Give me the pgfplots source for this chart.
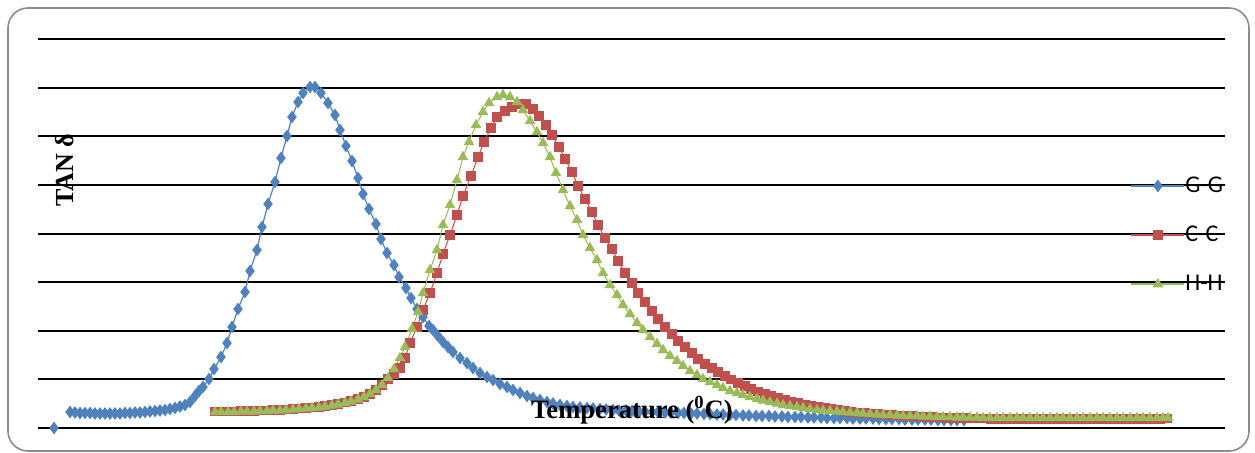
\documentclass[border=0pt]{standalone}
\usepackage{fontspec}
\setmainfont{Liberation Serif}
\newfontfamily\calibri{Carlito}
\usepackage{pgfplots}
\pgfplotsset{compat=1.18}
\definecolor{cb}{HTML}{4F81BD}
\definecolor{cr}{HTML}{C0504D}
\definecolor{cg}{HTML}{9BBB59}
\definecolor{frm}{HTML}{8C8C8C}
\begin{document}
\begin{tikzpicture}[x=0.5pt,y=0.5pt]
\useasboundingbox (0,0) rectangle (1255,452);
\draw[frm, line width=0.8pt, rounded corners=10pt] (8,1) rectangle (1249,444);
\begin{axis}[at={(19pt,12pt)}, anchor=south west, scale only axis,
  width=593.5pt, height=194.5pt,
  xmin=38, xmax=1225, ymin=0, ymax=389,
  axis line style={draw=none}, xtick=\empty,
  ytick={0,48.625,...,389}, yticklabels={}, major tick length=0pt,
  ymajorgrids, grid style={black, line width=1pt},
  unbounded coords=jump,
  xlabel={\bfseries Temperature (\textsuperscript{0}C)},
  xlabel style={at={(axis description cs:0.5004,0.046)}, anchor=center, font=\fontsize{13.3}{15}\selectfont},
  ylabel={\bfseries TAN δ},
  ylabel style={at={(axis description cs:0.0227,0.663)}, anchor=center, font=\fontsize{13}{15}\selectfont},
  legend style={at={(axis cs:1130,193)}, anchor=west, fill=none, draw=none, inner sep=0pt,
    font=\calibri\fontsize{12}{14}\selectfont, row sep=15.3pt, nodes={inner sep=0pt},
    /tikz/every even column/.append style={column sep=3.5pt}},
  legend cell align=left,
  legend image code/.code={\draw[#1, mark=none, line width=1pt] (0pt,0pt) -- (26.5pt,0pt); \draw[#1, only marks] plot coordinates {(13.25pt,0pt)};},
]
\addplot[cb, line width=0.6pt, mark=diamond*, mark size=2.7pt] table[x=x,y=y] {
x y
54 0
62 nan
70 16
75 15.5
80 15
85 15
90 15
95 14.5
100 14.5
105 14.5
110 14.5
115 14.5
120 14.5
125 15
130 15
135 15.5
140 15.5
145 16
150 16.5
155 17
160 17.5
165 18
170 19
175 20
180 21.5
185 23
190 26
195 32
199 37
203 41
209 49
214 59
221 71
227 85
232 101
238 119
245 136
250 157
257 178
262 201
268 224
275 246
281 270
287 292
292 311
298 326
303 335
310 341
315 341
321 335
328 325
335 313
340 298
346 282
352 267
358 250
363 234
369 219
376 204
381 189
387 175
394 163
399 151
406 140
411 130
417 119
423 111
429 102
433 98
438 92
443 86
448 81
453 76
460 70
467 65
473 60
480 55
487 51
493 48
500 44
507 41
513 38
520 35
527 32
533 30
540 28
547 26
553 24.5
560 23
567 22
573 21
580 20.5
587 20
593 19.5
600 19
606 18.5
613 18
619 17.5
626 17.5
632 17
639 16.5
645 16.5
652 16
658 16
665 15.5
671 15.5
678 15
684 15
691 14.5
697 14.5
704 14
710 14
717 13.5
723 13.5
730 13
736 13
743 12.5
749 12.5
756 12
762 12
769 12
775 11.5
782 11.5
788 11
795 11
801 11
808 10.5
814 10.5
821 10.5
827 10
834 10
840 10
847 10
853 9.5
860 9.5
866 9.5
873 9.5
879 9
886 9
892 9
899 9
905 8.5
912 8.5
918 8.5
925 8.5
931 8.5
938 8
944 8
951 8
957 8
964 8
};
\addlegendentry{G-G}
\addplot[cr, line width=0.5pt, mark=square*, mark size=2.1pt] table[x=x,y=y] {
x y
215 16.5
221 16.5
228 16.5
234 16.5
241 17
247 17
254 17
260 17.5
267 17.5
273 18
280 18
286 18.5
293 19
299 19.5
306 20
312 20.5
319 21
325 22
332 23
338 24
345 25.5
351 27
358 29
364 31
370 34
376 38
382 43
388 49
394 54
400 60
405 70
410 85
417 101
423 118
430 135
437 155
443 174
450 193
457 213
463 232
471 252
478 271
484 286
491 300
497 311
505 317
512 321
519 324
526 324
533 319
539 312
546 303
552 293
559 281
565 269
572 256
578 242
585 229
592 216
598 203
605 190
612 179
618 167
625 155
632 145
638 135
645 126
652 117
658 109
665 101
672 94
678 87
685 81
692 75
698 69
705 64
712 60
718 56
725 52
731 48.5
738 45
745 42
751 39
758 36.5
765 34
771 32
778 30
785 28
791 26.5
798 25
805 23.5
811 22
818 21
825 20
831 19
838 18
845 17
851 16
858 15.5
865 15
871 14.5
878 14
885 13.5
891 13
898 12.5
905 12
911 12
918 11.5
925 11
931 11
938 10.5
945 10.5
951 10
958 10
965 10
971 9.5
978 9.5
985 9.5
991 9
998 9
1004 9
1011 9
1017 9
1024 9
1030 9
1037 9
1043 9
1050 9
1056 9
1063 9
1069 9
1076 9
1082 9
1089 9
1095 9
1102 9
1108 9
1115 9
1121 9
1128 9
1134 9
1141 9
1147 9
1154 9
1160 9
1167 9.5
};
\addlegendentry{C-C}
\addplot[cg, line width=0.5pt, mark=triangle*, mark size=2.6pt] table[x=x,y=y] {
x y
215 16
221 16
228 16
234 16
241 16.5
247 16.5
254 16.5
260 17
267 17
273 17.5
280 17.5
286 18
293 18.5
299 19
306 19.5
312 20
319 20.5
325 21.5
332 22.5
338 23.5
345 25
351 26.5
358 28.5
364 31
370 34
376 38
382 43
388 50
394 59
400 70
405 81
412 99
418 116
423 135
430 158
437 178
443 203
450 223
457 248
463 271
469 286
476 303
483 316
489 325
497 331
503 333
510 331
517 326
523 318
530 307
537 296
543 285
550 271
556 255
563 238
570 222
577 208
583 193
590 180
597 168
603 155
610 143
617 133
623 123
630 114
637 105
643 98
650 91
657 84
663 78
670 72
677 67
683 62
690 57
697 53
703 49
710 46
717 43
723 40
730 37
737 35
743 33
750 31
757 29
763 27.5
770 26
777 24.5
783 23
790 22
797 21
803 20
810 19
817 18
823 17.5
830 17
837 16.5
843 16
850 15.5
857 15
863 14.5
870 14
877 13.5
883 13
890 13
897 12.5
903 12
910 12
917 12
923 11.5
930 11.5
937 11
943 11
950 11
957 10.5
963 10.5
970 10.5
977 10.5
983 10
990 10
997 10
1003 10
1010 10
1017 10
1023 10
1030 10
1037 10
1043 10
1050 10
1057 10
1063 10
1070 10
1077 10
1083 10
1090 10
1097 10
1103 10
1110 10
1117 10
1123 10
1130 10
1137 10
1143 10
1150 10
1157 10
1163 10
1168 10
};
\addlegendentry{H-H}
\end{axis}
\end{tikzpicture}
\end{document}
